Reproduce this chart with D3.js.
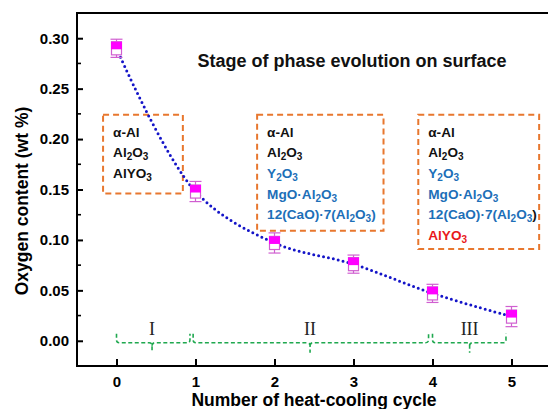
<!DOCTYPE html>
<html><head><meta charset="utf-8">
<script src="https://cdn.jsdelivr.net/npm/d3@7/dist/d3.min.js"></script>
<style>
body{margin:0;background:#fff;}
svg{display:block;font-family:"Liberation Sans",Arial,sans-serif;}
</style></head>
<body>
<svg id="c" width="548" height="409"></svg>
<script>
// ---- data ----
const cycles = [0, 1, 2, 3, 4, 5];
const oxygen = [0.290, 0.148, 0.097, 0.076, 0.047, 0.024];
const errors = [0.009, 0.010, 0.010, 0.009, 0.009, 0.010];
const xTicks = [0, 1, 2, 3, 4, 5];
const yTicks = [0.00, 0.05, 0.10, 0.15, 0.20, 0.25, 0.30];
const stageLabels = ["I", "II", "III"];
const stageStart = [0.0, 0.97, 4.0];
const stageEnd = [0.93, 3.95, 4.93];
const stageTip = [0.45, 2.45, 4.47];
// phase boxes: [x0, x1] in cycle units, top/bottom in wt%
const boxX0 = [-0.17, 1.78, 3.82];
const boxX1 = [0.84, 3.38, 5.35];
const boxTop = [0.224, 0.224, 0.224];
const boxBottom = [0.146, 0.109, 0.091];
const boxPhases = [
  [["α-Al","k"],["Al_2O_3","k"],["AlYO_3","k"]],
  [["α-Al","k"],["Al_2O_3","k"],["Y_2O_3","b"],["MgO·Al_2O_3","b"],["12(CaO)·7(Al_2O_3)","b"]],
  [["α-Al","k"],["Al_2O_3","k"],["Y_2O_3","b"],["MgO·Al_2O_3","b"],["12(CaO)·7(Al_2O_3)","bk"],["AlYO_3","r"]]
];
const title = "Stage of phase evolution on surface";
const xTitle = "Number of heat-cooling cycle";
const yTitle = "Oxygen content (wt %)";

// ---- layout ----
const svg = d3.select("#c");
const L = 77, R = 551, T = 13, B = 366;
const x = d3.scaleLinear().domain([-0.5, 5.5]).range([L, R]);
const y = d3.scaleLinear().domain([-0.025, 0.325]).range([B, T]);

const colors = {k:"#111", b:"#1d6fb8", r:"#e8191c"};

// frame
svg.append("rect").attr("x", L).attr("y", T).attr("width", R - L).attr("height", B - T)
  .attr("fill","none").attr("stroke","#000").attr("stroke-width",2);

// y axis
const yAxis = d3.axisLeft(y).tickValues(yTicks).tickFormat(d3.format(".2f")).tickSizeInner(-6).tickSizeOuter(0).tickPadding(8);
const gy = svg.append("g").attr("transform",`translate(${L},0)`).call(yAxis);
gy.select(".domain").remove();
gy.selectAll("line").attr("stroke","#000").attr("stroke-width",2);
gy.selectAll("text").attr("font-size",15).attr("font-weight","bold").attr("fill","#000");
// minor y ticks
const minorY = d3.range(0.025, 0.325, 0.05);
svg.append("g").selectAll("line").data(minorY).join("line")
  .attr("x1", L).attr("x2", L + 4).attr("y1", d => y(d)).attr("y2", d => y(d))
  .attr("stroke","#000").attr("stroke-width",1.6);

// x axis
const xAxis = d3.axisBottom(x).tickValues(xTicks).tickFormat(d3.format("d")).tickSizeInner(-7).tickSizeOuter(0).tickPadding(10);
const gx = svg.append("g").attr("transform",`translate(0,${B})`).call(xAxis);
gx.select(".domain").remove();
gx.selectAll("line").attr("stroke","#000").attr("stroke-width",2);
gx.selectAll("text").attr("font-size",15).attr("font-weight","bold").attr("fill","#000");

// axis titles
svg.append("text").attr("x", 314).attr("y", 406).attr("text-anchor","middle")
  .attr("font-size",17.5).attr("font-weight","bold").text(xTitle);
svg.append("text").attr("transform","translate(28,201) rotate(-90)").attr("text-anchor","middle")
  .attr("font-size",17.5).attr("font-weight","bold").text(yTitle);

// title
svg.append("text").attr("x", 352).attr("y", 67).attr("text-anchor","middle")
  .attr("font-size",18).attr("font-weight","bold").attr("fill","#111").text(title);

// phase boxes
function addChem(sel, str){
  const parts = str.split(/(_\d)/).filter(p => p);
  let shift = 0;
  parts.forEach(p => {
    if (p[0] === "_") {
      sel.append("tspan").attr("font-size",10).attr("dy",3 - shift).text(p.slice(1));
      shift = 3;
    } else {
      const ts = sel.append("tspan").text(p);
      if (shift) { ts.attr("dy", -shift); shift = 0; }
    }
  });
  return shift;
}
boxPhases.forEach((phases, i) => {
  const g = svg.append("g");
  g.append("rect").attr("x", x(boxX0[i])).attr("y", y(boxTop[i]))
    .attr("width", x(boxX1[i]) - x(boxX0[i])).attr("height", y(boxBottom[i]) - y(boxTop[i]))
    .attr("fill","none").attr("stroke","#e8772e").attr("stroke-width",2).attr("stroke-dasharray","6,4");
  phases.forEach((ph, j) => {
    const t = g.append("text").attr("x", x(boxX0[i]) + 10).attr("y", y(boxTop[i]) + 22 + j * 20.6)
      .attr("font-size",13.6).attr("font-weight","bold");
    if (ph[1] === "bk") {
      t.attr("fill", colors.b);
      const s = addChem(t, ph[0].slice(0, -1));
      t.append("tspan").attr("fill", colors.k).attr("dy", -s).text(")");
    } else {
      t.attr("fill", colors[ph[1]]);
      addChem(t, ph[0]);
    }
  });
});

// stage braces
const braceY = y(0) + 2;
stageLabels.forEach((lab, i) => {
  const x0 = x(stageStart[i]), x1 = x(stageEnd[i]), xm = x(stageTip[i]);
  const h = 9, r = 3;
  const p = d3.path();
  p.moveTo(x0, braceY - h);
  p.lineTo(x0, braceY - r);
  p.quadraticCurveTo(x0, braceY, x0 + r, braceY);
  p.lineTo(xm - r, braceY);
  p.quadraticCurveTo(xm, braceY, xm, braceY + r);
  p.lineTo(xm, braceY + 10);
  p.moveTo(xm, braceY + r);
  p.quadraticCurveTo(xm, braceY, xm + r, braceY);
  p.lineTo(x1 - r, braceY);
  p.quadraticCurveTo(x1, braceY, x1, braceY - r);
  p.lineTo(x1, braceY - h);
  svg.append("path").attr("d", p.toString()).attr("fill","none")
    .attr("stroke","#1fa84f").attr("stroke-width",1.6).attr("stroke-dasharray","4,2.5");
  svg.append("text").attr("x", xm).attr("y", braceY - 8).attr("text-anchor","middle")
    .attr("font-family","'Liberation Serif','Times New Roman',serif").attr("font-size",18).attr("fill","#222").text(lab);
});

// fit curve (dotted)
const line = d3.line().x((d,i) => x(cycles[i])).y(d => y(d)).curve(d3.curveCatmullRom.alpha(0.5));
svg.append("path").attr("d", line(oxygen)).attr("fill","none")
  .attr("stroke","#1414c8").attr("stroke-width",3).attr("stroke-linecap","round").attr("stroke-dasharray","0,5");

// markers with error bars
const pts = svg.append("g").selectAll("g").data(oxygen).join("g")
  .attr("transform", (d,i) => `translate(${x(cycles[i])},0)`);
pts.append("line").attr("x1",0).attr("x2",0).attr("y1",(d,i)=>y(d+errors[i])).attr("y2",(d,i)=>y(d-errors[i]))
  .attr("stroke","#d05fd0").attr("stroke-width",1.2);
pts.append("line").attr("x1",-6).attr("x2",6).attr("y1",(d,i)=>y(d+errors[i])).attr("y2",(d,i)=>y(d+errors[i]))
  .attr("stroke","#d05fd0").attr("stroke-width",1.2);
pts.append("line").attr("x1",-6).attr("x2",6).attr("y1",(d,i)=>y(d-errors[i])).attr("y2",(d,i)=>y(d-errors[i]))
  .attr("stroke","#d05fd0").attr("stroke-width",1.2);
pts.append("rect").attr("x",-5).attr("width",10).attr("y",d=>y(d+0.0065)).attr("height",d=>y(d-0.0065)-y(d+0.0065))
  .attr("fill","#fff").attr("stroke","#d05fd0").attr("stroke-width",1.2);
pts.append("rect").attr("x",-5.5).attr("width",11).attr("y",d=>y(d+0.0065)).attr("height",d=>y(d)-y(d+0.0065)+1)
  .attr("fill","#ff00ff");
</script>
</body></html>
